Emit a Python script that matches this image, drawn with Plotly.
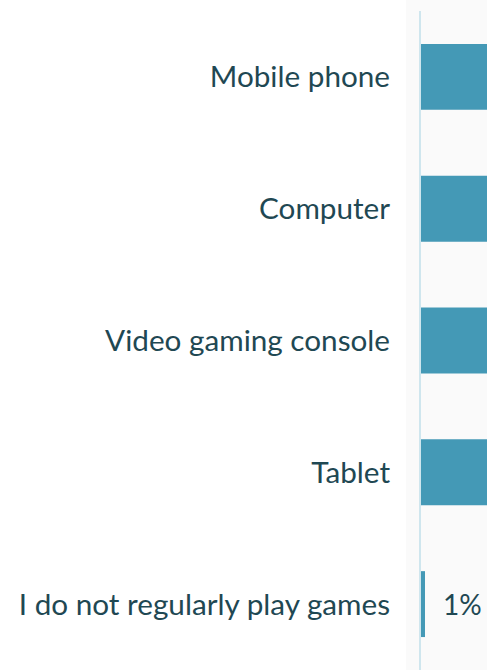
import plotly.graph_objects as go

# Devices used for playing games (share of respondents, %)
categories = [
    "Mobile phone",
    "Computer",
    "Video gaming console",
    "Tablet",
    "I do not regularly play games",
]
shares = [63, 47, 36, 30, 1]

BAR_COLOR = "#4499b6"
TEXT_COLOR = "#1f4853"
AXIS_COLOR = "#cfe6ee"
PANEL_BG = "#fafafa"
FONT = "Lato"

fig = go.Figure(
    go.Bar(
        x=shares,
        y=categories,
        orientation="h",
        marker=dict(color=BAR_COLOR, line=dict(width=0)),
        width=0.5,
        hovertemplate="%{y}: %{x}%<extra></extra>",
    )
)

# Value labels for bars that end inside the visible range
x_max = 16.5
annotations = [
    dict(
        x=v,
        y=c,
        xref="x",
        yref="y",
        text=f"{v}%",
        showarrow=False,
        xanchor="left",
        xshift=16,
        font=dict(size=28, color=TEXT_COLOR, family=FONT),
    )
    for c, v in zip(categories, shares)
    if v < x_max * 0.5
]

fig.update_layout(
    width=487,
    height=670,
    margin=dict(l=421, r=0, t=11, b=0),
    paper_bgcolor="white",
    plot_bgcolor="rgba(0,0,0,0)",
    showlegend=False,
    font=dict(family=FONT, color=TEXT_COLOR, size=29.7),
    annotations=annotations,
    shapes=[
        dict(
            type="rect",
            xref="paper",
            yref="paper",
            x0=-15 / 66,
            x1=1.0,
            y0=-0.1,
            y1=1.1,
            fillcolor=PANEL_BG,
            line=dict(width=0),
            layer="below",
        )
    ],
)

fig.update_xaxes(
    range=[0, x_max],
    showgrid=False,
    zeroline=False,
    showticklabels=False,
    showline=False,
    fixedrange=True,
)

fig.update_yaxes(
    categoryorder="array",
    categoryarray=categories[::-1],
    showgrid=False,
    zeroline=False,
    showline=True,
    linecolor=AXIS_COLOR,
    linewidth=2,
    ticks="",
    ticklabelstandoff=23,
    tickfont=dict(size=29.7, color=TEXT_COLOR, family=FONT),
)

fig.write_html("out.html")
